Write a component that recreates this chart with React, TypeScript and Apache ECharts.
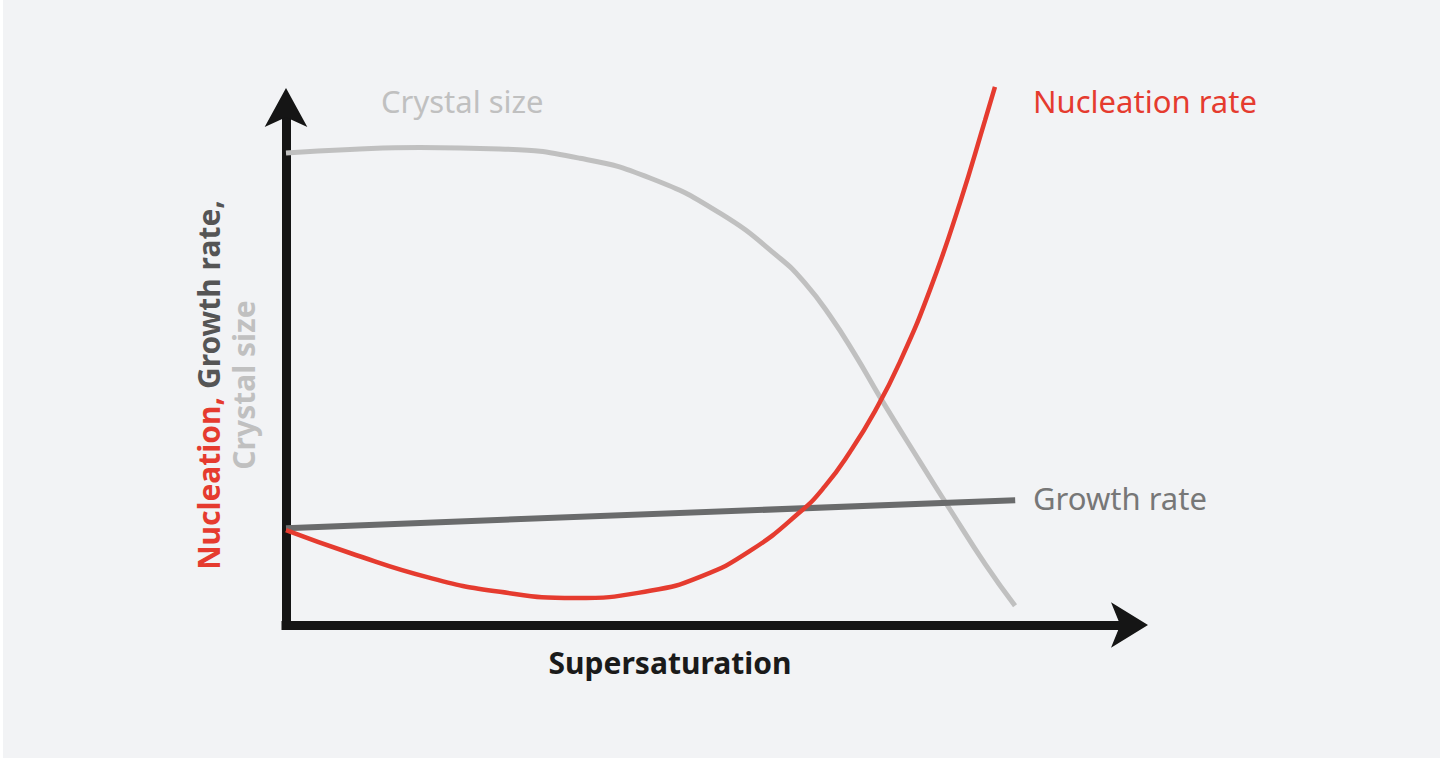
import React, { useEffect, useRef } from "react";
import * as echarts from "echarts";

const growthX = [0, 86.5];
const growthY = [18.7, 24.1];

const nucleationX = [0, 7.59, 17.08, 25.39, 34.28, 43.18, 49.11, 55.04, 60.97, 63.94, 66.9, 69.87, 72.83, 76.39, 79.95, 82.92, 84.1];
const nucleationY = [18.3, 13.9, 9.1, 6.4, 5.2, 6.6, 9.3, 14.3, 21.8, 26.8, 33.4, 41.3, 50.8, 64.7, 81.5, 97.4, 103.9];

const crystalX = [0, 7.59, 15.9, 25.39, 34.88, 43.18, 51.48, 58.6, 61.57, 64.53, 67.5, 70.46, 75.21, 78.77, 82.92, 86.48];
const crystalY = [91.1, 91.8, 92.2, 91.9, 90.1, 86.3, 79.5, 70.8, 66.0, 59.7, 52.2, 44.0, 31.5, 22.3, 11.8, 3.7];

const seriesNames = ["Nucleation rate", "Growth rate", "Crystal size"];
const xTitle = "Supersaturation";
const yTitleLine1 = ["Nucleation, ", "Growth rate,"];
const yTitleLine2 = "Crystal size";

const RED = "#e53b2f";
const DARK = "#6a6b6c";
const LIGHT = "#c0c0c0";
const AXIS = "#151515";
const FONT = "'Noto Sans', 'Open Sans', sans-serif";

const pairs = (xs: number[], ys: number[]) => xs.map((x, i) => [x, ys[i]]);

export default function App() {
  const ref = useRef<HTMLDivElement>(null);
  useEffect(() => {
    if (!ref.current) return;
    const chart = echarts.init(ref.current, undefined, { renderer: "svg" });
    chart.setOption({
      animation: false,
      backgroundColor: "#f2f3f5",
      grid: { left: 286, right: 311, top: 107, bottom: 133 },
      xAxis: {
        type: "value",
        min: 0,
        max: 100,
        axisLine: {
          show: true,
          symbol: ["none", "arrow"],
          symbolSize: [34, 37],
          symbolOffset: [0, 19],
          lineStyle: { color: AXIS, width: 9, cap: "square" },
        },
        axisTick: { show: false },
        axisLabel: { show: false },
        splitLine: { show: false },
      },
      yAxis: {
        type: "value",
        min: 0,
        max: 100,
        axisLine: {
          show: true,
          symbol: ["none", "arrow"],
          symbolSize: [32, 39],
          symbolOffset: [0, 19],
          lineStyle: { color: AXIS, width: 9, cap: "square" },
        },
        axisTick: { show: false },
        axisLabel: { show: false },
        splitLine: { show: false },
      },
      series: [
        {
          name: seriesNames[2],
          type: "line",
          data: pairs(crystalX, crystalY),
          smooth: 0.5,
          showSymbol: false,
          clip: false,
          lineStyle: { color: LIGHT, width: 5 },
          z: 2,
        },
        {
          name: seriesNames[1],
          type: "line",
          data: pairs(growthX, growthY),
          showSymbol: false,
          clip: false,
          lineStyle: { color: DARK, width: 6 },
          z: 3,
        },
        {
          name: seriesNames[0],
          type: "line",
          data: pairs(nucleationX, nucleationY),
          smooth: 0.5,
          showSymbol: false,
          clip: false,
          lineStyle: { color: RED, width: 4.5 },
          z: 4,
        },
      ],
      graphic: [
        { type: "rect", left: 0, top: 0, shape: { width: 3, height: 758 }, style: { fill: "#ffffff" } },
        {
          type: "text",
          x: 381,
          y: 101,
          style: { text: seriesNames[2], fill: LIGHT, font: `31px ${FONT}`, verticalAlign: "middle" },
        },
        {
          type: "text",
          x: 1033,
          y: 101,
          style: { text: seriesNames[0], fill: RED, font: `31px ${FONT}`, verticalAlign: "middle" },
        },
        {
          type: "text",
          x: 1033,
          y: 498,
          style: { text: seriesNames[1], fill: "#777777", font: `31px ${FONT}`, verticalAlign: "middle" },
        },
        {
          type: "text",
          x: 670,
          y: 662,
          style: {
            text: xTitle,
            fill: "#1a1a1a",
            font: `bold 30px ${FONT}`,
            align: "center",
            verticalAlign: "middle",
          },
        },
        {
          type: "text",
          x: 208,
          y: 385,
          rotation: Math.PI / 2,
          style: {
            text: `{r|${yTitleLine1[0]}}{g|${yTitleLine1[1]}}`,
            align: "center",
            verticalAlign: "middle",
            rich: {
              r: { fill: RED, font: `bold 30px ${FONT}` },
              g: { fill: "#555555", font: `bold 30px ${FONT}` },
            },
          },
        },
        {
          type: "text",
          x: 243,
          y: 385,
          rotation: Math.PI / 2,
          style: {
            text: yTitleLine2,
            fill: LIGHT,
            font: `bold 30px ${FONT}`,
            align: "center",
            verticalAlign: "middle",
          },
        },
      ],
    });
    return () => chart.dispose();
  }, []);
  return (
    <div
      ref={ref}
      style={{ position: "fixed", left: 0, top: 0, width: 1440, height: 758 }}
    />
  );
}
